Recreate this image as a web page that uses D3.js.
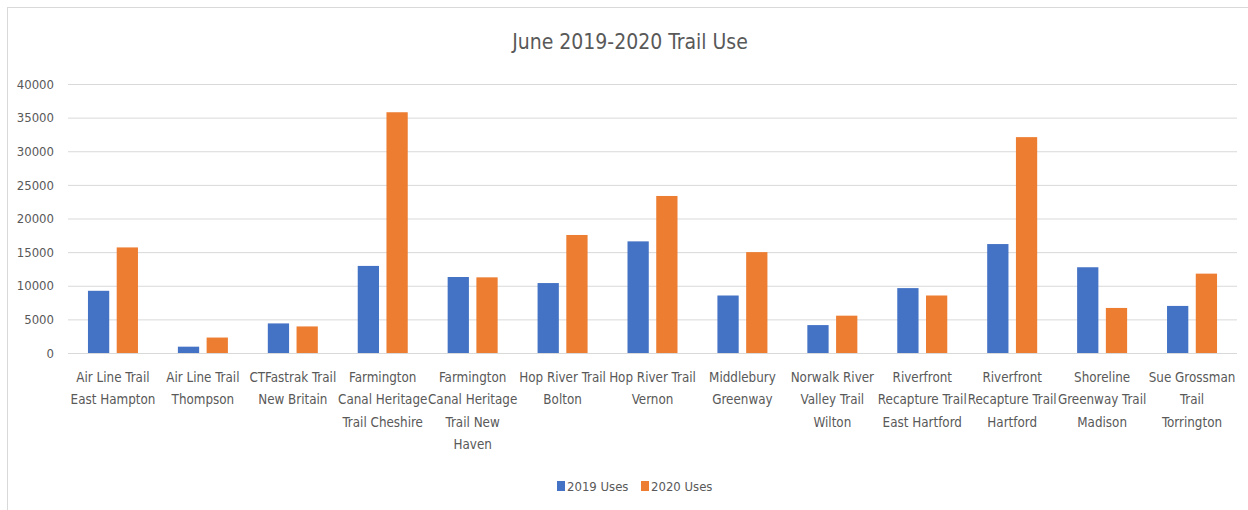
<!DOCTYPE html>
<html>
<head>
<meta charset="utf-8">
<script src="https://cdn.jsdelivr.net/npm/d3@7"></script>
<style>
  body { margin: 0; background: #fff; }
  svg text { font-family: "Liberation Sans Narrow", "DejaVu Sans Condensed", "Roboto", sans-serif; fill: #595959; }
</style>
</head>
<body>
<div id="chart"></div>
<script>
// trail names (label lines as wrapped in the original)
var trails = [
    ["Air Line Trail", "East Hampton"],
    ["Air Line Trail", "Thompson"],
    ["CTFastrak Trail", "New Britain"],
    ["Farmington", "Canal Heritage", "Trail Cheshire"],
    ["Farmington", "Canal Heritage", "Trail New", "Haven"],
    ["Hop River Trail", "Bolton"],
    ["Hop River Trail", "Vernon"],
    ["Middlebury", "Greenway"],
    ["Norwalk River", "Valley Trail", "Wilton"],
    ["Riverfront", "Recapture Trail", "East Hartford"],
    ["Riverfront", "Recapture Trail", "Hartford"],
    ["Shoreline", "Greenway Trail", "Madison"],
    ["Sue Grossman", "Trail", "Torrington"]
];
var uses2019 = [9250, 940, 4400, 12950, 11300, 10400, 16600, 8550, 4150, 9650, 16200, 12750, 7000];
var uses2020 = [15700, 2300, 3950, 35800, 11250, 17550, 23350, 15000, 5550, 8550, 32100, 6700, 11800];
var seriesNames = ["2019 Uses", "2020 Uses"];
var yTicks = [0, 5000, 10000, 15000, 20000, 25000, 30000, 35000, 40000];

var colors = ["#4472C4", "#ED7D31"];

var W = 1248, H = 510;
var margin = {top: 84, right: 10, bottom: 157, left: 68},
    width = 1237 - margin.left,
    height = 353 - margin.top;

var svg = d3.select("#chart")
    .append("svg")
    .attr("width", W)
    .attr("height", H);

// outer chart frame
svg.append("rect")
    .attr("x", 7.5).attr("y", 7.5)
    .attr("width", W).attr("height", H)
    .attr("fill", "none")
    .attr("stroke", "#d9d9d9");

var g = svg.append("g")
    .attr("transform", "translate(" + margin.left + "," + margin.top + ")");

var x = d3.scaleBand()
    .domain(d3.range(trails.length))
    .range([0, width]);

var x1 = d3.scaleBand()
    .domain([0, 1])
    .range([x.bandwidth() / 2 - 25, x.bandwidth() / 2 + 25])
    .paddingInner(0.26);

var y = d3.scaleLinear()
    .domain([0, 40000])
    .range([height, 0]);

// gridlines
g.append("g")
    .call(d3.axisLeft(y).tickValues(yTicks).tickSize(-width).tickFormat(""))
    .call(function(a) {
        a.select(".domain").remove();
        a.selectAll("line").attr("stroke", "#d9d9d9").attr("stroke-width", 1);
    });

// y labels
g.append("g")
    .call(d3.axisLeft(y).tickValues(yTicks).tickSize(0).tickPadding(14).tickFormat(d3.format("d")))
    .call(function(a) {
        a.select(".domain").remove();
        a.selectAll("text").attr("font-size", "13px").style("font-family", null);
    });

// bars
var series = [uses2019, uses2020];
series.forEach(function(vals, s) {
    g.append("g")
        .selectAll("rect")
        .data(vals)
        .enter()
        .append("rect")
        .attr("x", function(d, i) { return x(i) + x1(s); })
        .attr("y", function(d) { return y(d); })
        .attr("width", x1.bandwidth())
        .attr("height", function(d) { return height - y(d); })
        .attr("fill", colors[s]);
});

// x labels
var xl = g.append("g")
    .attr("transform", "translate(0," + height + ")")
    .call(d3.axisBottom(x).tickSize(0).tickFormat(""))
    .call(function(a) { a.select(".domain").remove(); });

xl.selectAll(".tick").each(function(d) {
    var t = d3.select(this).append("text")
        .attr("text-anchor", "middle")
        .attr("font-size", "13.3px")
        .attr("y", 29);
    trails[d].forEach(function(line, k) {
        t.append("tspan")
            .attr("x", 0)
            .attr("dy", k === 0 ? 0 : 22.3)
            .text(line);
    });
});

// title
svg.append("text")
    .attr("x", 630)
    .attr("y", 49)
    .attr("text-anchor", "middle")
    .attr("font-size", "21px")
    .text("June 2019-2020 Trail Use");

// legend
var legend = svg.append("g").attr("transform", "translate(557,481)");
var lx = [0, 84];
seriesNames.forEach(function(name, i) {
    legend.append("rect")
        .attr("x", lx[i]).attr("y", 0)
        .attr("width", 8).attr("height", 10)
        .attr("fill", colors[i]);
    legend.append("text")
        .attr("x", lx[i] + 10)
        .attr("y", 10)
        .attr("font-size", "13px")
        .text(name);
});
</script>
</body>
</html>
